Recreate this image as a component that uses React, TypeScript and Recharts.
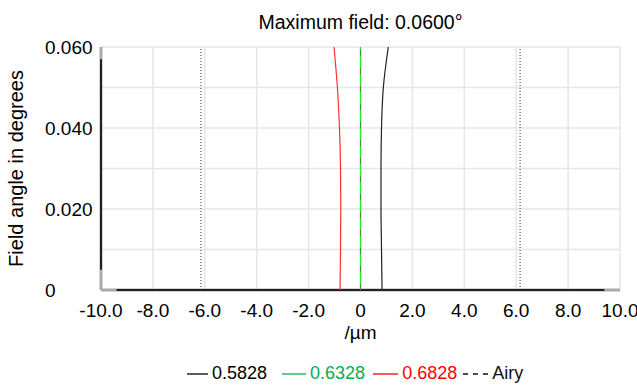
import { LineChart, Line, XAxis, YAxis, CartesianGrid, ReferenceLine, Label } from "recharts";

const fieldAngles = [0, 0.01, 0.02, 0.03, 0.04, 0.05, 0.06];
const shift5828 = [0.83, 0.81, 0.79, 0.79, 0.81, 0.88, 1.07];
const shift6328 = [0, 0, 0, 0, 0, 0, 0];
const shift6828 = [-0.79, -0.77, -0.76, -0.77, -0.81, -0.89, -1.02];
const airyRadius = 6.15;

const xTicks = [-10, -8, -6, -4, -2, 0, 2, 4, 6, 8, 10];
const yTicks = [0, 0.02, 0.04, 0.06];
const yGrid = [0, 0.01, 0.02, 0.03, 0.04, 0.05, 0.06];

const legendItems = [
  { label: "0.5828", color: "#000000", dash: undefined, gap: 0, w: 21 },
  { label: "0.6328", color: "#00b050", dash: undefined, gap: 15, w: 24 },
  { label: "0.6828", color: "#ff0000", dash: undefined, gap: 8, w: 25 },
  { label: "Airy", color: "#111111", dash: "5 5", gap: 6, w: 25 },
];

const data = fieldAngles.map((f, i) => ({
  field: f,
  w1: shift5828[i],
  w2: shift6328[i],
  w3: shift6828[i],
}));

const font = "'Liberation Sans', Arial, sans-serif";
const tickStyle = { fill: "#000", fontSize: 19, fontFamily: font };

const YTick = (props: any) => {
  const { y, payload } = props;
  const v = payload.value as number;
  return (
    <text x={45} y={y} textAnchor="start" dominantBaseline="central" fill="#000" fontSize={19} fontFamily={font}>
      {v === 0 ? "0" : v.toFixed(3)}
    </text>
  );
};

export default function App() {
  return (
    <div style={{ position: "absolute", left: 0, top: 0, width: 637, height: 385, fontFamily: font, background: "#fff" }}>
      <div style={{ position: "absolute", top: 11, left: 101, width: 519, textAlign: "center", fontSize: 19.5 }}>
        Maximum field: 0.0600°
      </div>
      <LineChart
        width={637}
        height={385}
        data={data}
        layout="vertical"
        margin={{ top: 47, right: 17, bottom: 60, left: 36 }}
      >
        <CartesianGrid
          stroke="#e6e6e6"
          strokeWidth={1.5}
          horizontalValues={yGrid}
          verticalValues={xTicks}
        />
        <XAxis
          type="number"
          domain={[-10, 10]}
          ticks={xTicks}
          tickFormatter={(v: number) => (v === 0 ? "0" : v.toFixed(1))}
          tick={tickStyle}
          tickLine={false}
          tickMargin={8}
          axisLine={false}
          height={35}
          interval={0}
        >
          <Label value="/µm" position="bottom" offset={1} style={{ ...tickStyle }} />
        </XAxis>
        <YAxis
          type="number"
          dataKey="field"
          domain={[0, 0.06]}
          reversed
          ticks={yTicks}
          tick={<YTick />}
          tickLine={false}
          axisLine={false}
          width={65}
          interval={0}
        >
          <Label
            value="Field angle in degrees"
            angle={-90}
            position="insideLeft"
            offset={-20}
            style={{ ...tickStyle, fontSize: 20, textAnchor: "middle" }}
          />
        </YAxis>
        <ReferenceLine y={0} stroke="#aaaaaa" strokeWidth={3} />
        <ReferenceLine x={-10} stroke="#aaaaaa" strokeWidth={3} />
        <ReferenceLine segment={[{ x: -9.4, y: 0 }, { x: 9.4, y: 0 }]} stroke="#222" strokeWidth={2} />
        <ReferenceLine segment={[{ x: -10, y: 0.005 }, { x: -10, y: 0.057 }]} stroke="#222" strokeWidth={2} />
        <ReferenceLine x={-airyRadius} stroke="#333" strokeDasharray="1 2" />
        <ReferenceLine x={airyRadius} stroke="#333" strokeDasharray="1 2" />
        <Line dataKey="w2" type="monotone" stroke="#22ee22" strokeWidth={1.3} dot={false} isAnimationActive={false} />
        <Line dataKey="w1" type="monotone" stroke="#222222" strokeWidth={1.2} dot={false} isAnimationActive={false} />
        <Line dataKey="w3" type="monotone" stroke="#ff3030" strokeWidth={1.2} dot={false} isAnimationActive={false} />
        <ReferenceLine x={0} stroke="#666" strokeWidth={0.8} strokeDasharray="6 12" />
      </LineChart>
      <div
        style={{
          position: "absolute",
          top: 363,
          left: 187,
          display: "flex",
          fontSize: 18,
          whiteSpace: "nowrap",
        }}
      >
        {legendItems.map((it) => (
          <div key={it.label} style={{ display: "flex", alignItems: "center", color: it.color, marginLeft: it.gap }}>
            <svg width={it.w} height={10} style={{ marginRight: 4 }}>
              <line x1={0} y1={5} x2={it.w} y2={5} stroke={it.color} strokeWidth={1.3} strokeDasharray={it.dash} />
            </svg>
            <span>{it.label}</span>
          </div>
        ))}
      </div>
    </div>
  );
}
